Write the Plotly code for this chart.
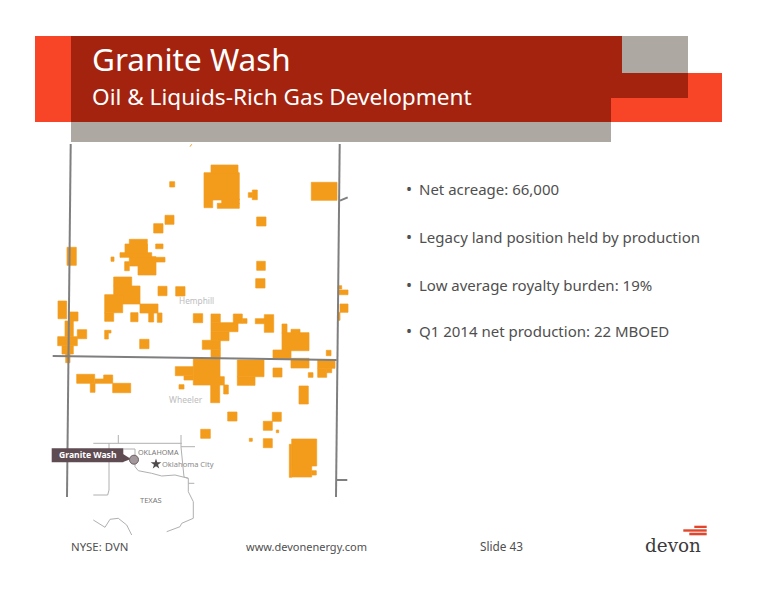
import plotly.graph_objects as go

# slide is laid out in page pixels, y runs downward
W = 776
H = 600

RED = "#a3230f"
ORANGE = "#f84527"
GREY = "#ada9a2"
ACREAGE = "#f39c1c"
LINE = "#7f7f7f"
TEXT = "#4f4f4f"

# acreage blocks: x0, y0, x1, y1
parcels = [
    (211, 165, 238, 173.3), (204, 172.7, 239.3, 200), (204, 200, 212.7, 207.7),
    (217.3, 203.3, 239.3, 208.3), (221.7, 199, 239.3, 204),
    (169.7, 181.7, 174.7, 187), (252.3, 190, 257.3, 199.7), (248.3, 192.7, 252.3, 197.3),
    (311.3, 182.3, 337, 200.3), (256.7, 217, 266, 226), (165, 215.3, 174, 224.3),
    (153.7, 223.7, 163, 233), (155.7, 244, 163, 248.7), (67, 247.3, 76.3, 265.3),
    (111, 257, 114, 261.3), (129.3, 239.3, 147.3, 253.3), (125, 244, 147.3, 253.3),
    (120, 252.7, 151.7, 257.3), (129.3, 256.7, 156, 266), (138, 266, 156, 275),
    (124.7, 261.7, 129.3, 270.7), (151.7, 257.3, 165, 262),
    (256.7, 261.3, 265.3, 270.3), (255.7, 278.7, 265, 288), (158, 286.3, 167, 295.7),
    (175.7, 286.7, 185, 296), (113.7, 277, 131.7, 286), (113.7, 286, 140, 304),
    (104.7, 294.7, 122.7, 312.7), (104.7, 312.7, 113.7, 321.3), (140, 304, 158, 313),
    (148.7, 313, 153.7, 322), (130.7, 312.7, 138, 321.7), (157.3, 313, 162, 322.3),
    (193.3, 313.7, 202.7, 322.7), (211, 314, 220.3, 322.7), (211, 322.7, 238, 331.7),
    (211, 331.7, 229, 340.7), (233.3, 314, 242.3, 323.3), (242.3, 318.7, 247, 323.3),
    (202.3, 340.3, 220.3, 349.3), (211, 349.3, 220.3, 358.3),
    (255.3, 318.7, 265, 323.7), (264.3, 314.7, 273.7, 332.3),
    (282, 324, 287, 333.3), (282, 332.7, 309, 350.7), (291, 329.3, 300, 333.3),
    (273, 350, 291, 359.3), (326.3, 350.3, 331, 355.7),
    (58, 301, 66.7, 318.7), (69.3, 312, 78, 321), (65, 321, 73.3, 336.7),
    (77.3, 329.7, 86.7, 338.7), (57.7, 336.7, 77.3, 345.7), (62, 345.7, 73.3, 354),
    (65.7, 354, 70, 362.7), (104.7, 330.3, 108.3, 339), (108.3, 330.3, 111, 333),
    (139.7, 339.3, 149, 348.7),
    (338.3, 290, 348, 294.7), (338.3, 285.7, 341.7, 289), (340, 304, 348, 312.3),
    (337.7, 312.3, 340, 320.3),
    (193.3, 358.3, 220, 385), (175.3, 366.7, 193.3, 375.7), (184, 375.7, 193.3, 380),
    (179, 384.7, 184, 389), (210.7, 385, 219.7, 402.7), (220, 376.7, 224.3, 385),
    (223.7, 385, 228.3, 394), (237.3, 360, 264, 376.7), (237.3, 376.7, 255, 385.3),
    (273, 368, 282, 377), (291, 358.3, 309, 368), (317.7, 360, 335, 368.3),
    (317.7, 368.3, 326.7, 377.3), (326.7, 368.3, 331.7, 372.7), (308.3, 372.7, 313, 377.3),
    (299, 386, 308.3, 404), (76.7, 374.3, 94.7, 383.3), (90.3, 383.3, 95, 392.3),
    (95, 379, 112.7, 383.3), (103.7, 375, 112.7, 379), (112.7, 383.3, 130.7, 392.7),
    (227.7, 412, 237, 421), (272.3, 412.3, 281.3, 421.3), (263.3, 421.3, 272.3, 430.3),
    (200.7, 429.3, 210.3, 438.3), (263.3, 438.7, 272.3, 447.7),
    (249.3, 438.3, 252.3, 441.3), (276.3, 430, 278.7, 432.7),
    (291.7, 439, 316.7, 466), (289.3, 444.3, 291.7, 477.3), (291.7, 466, 311.7, 477),
    (311.7, 470.7, 316.3, 475),
]

# county lines
county_lines = [
    [(70.7, 144), (68.3, 356.7), (67, 497)],
    [(339.7, 144), (336, 497)],
    [(52.7, 356), (336.7, 360)],
    [(340, 200.7), (347.7, 197.3)],
    [(336.7, 480), (347.3, 480)],
]

# state outlines on the little inset map
inset_lines = [
    [(93.3, 443.3), (181.7, 443.3)],
    [(118.3, 435), (118.3, 443.3)],
    [(181, 435), (181, 447), (184, 477), (188.3, 478.3), (188.3, 491.7), (193.3, 501.7),
     (193.3, 518.3), (181.7, 523.3), (180, 526.7), (166.7, 531.7)],
    [(181, 446.7), (195, 446.7)],
    [(188.3, 483.3), (194.3, 483.3)],
    [(109, 443.3), (109, 490), (107.7, 495), (93.3, 495)],
    [(123.3, 449), (135, 449), (135, 466.7), (138.3, 470.7), (151.7, 473.3), (161.7, 476),
     (175, 475), (188.3, 478.3)],
    [(93.3, 520), (105, 527.3), (110, 519.3), (118.3, 518.3), (126.7, 525), (131.7, 535)],
]

header_rects = [
    (35, 36, 71, 122, ORANGE),
    (611, 73, 722, 122, ORANGE),
    (71, 122, 611, 142, GREY),
    (622, 36, 688, 73, GREY),
    (71, 36, 622, 98, RED),
    (71, 98, 611, 122, RED),
    (622, 73, 688, 98, RED),
]

logo_bars = [
    (694.3, 525.7, 706.7, 528),
    (683.3, 529.3, 706.7, 531.7),
    (689.3, 532.7, 706.7, 535.3),
]

bullets = [
    "Net acreage: 66,000",
    "Legacy land position held by production",
    "Low average royalty burden: 19%",
    "Q1 2014 net production: 22 MBOED",
]
bullet_y = [189, 237, 285, 331]

FONT = "Noto Sans"


def add_label(fig, x, y, text, size, color=TEXT, family=FONT, anchor="left"):
    fig.add_annotation(x=x, y=y, text=text, showarrow=False, xanchor=anchor, yanchor="middle",
                       font=dict(family=family, size=size, color=color), xref="x", yref="y",
                       borderpad=0, borderwidth=0)


fig = go.Figure()

for x0, y0, x1, y1, color in header_rects:
    fig.add_shape(type="rect", x0=x0, y0=y0, x1=x1, y1=y1, fillcolor=color, line_width=0, layer="below")

# one trace per block, a single toself path punches holes where blocks overlap
# thin outline in the same colour seals the seams between touching blocks
for x0, y0, x1, y1 in parcels:
    fig.add_trace(go.Scatter(x=[x0, x1, x1, x0, x0], y=[y0, y0, y1, y1, y0], mode="lines",
                             fill="toself", fillcolor=ACREAGE, line=dict(color=ACREAGE, width=0.7)))

for seg in county_lines:
    fig.add_trace(go.Scatter(x=[p[0] for p in seg], y=[p[1] for p in seg], mode="lines",
                             line=dict(color=LINE, width=2)))
for seg in inset_lines:
    fig.add_trace(go.Scatter(x=[p[0] for p in seg], y=[p[1] for p in seg], mode="lines",
                             line=dict(color="#b0b0b0", width=1)))

# stray orange tick under the header
fig.add_trace(go.Scatter(x=[190, 191.7], y=[146.7, 144.3], mode="lines", line=dict(color=ACREAGE, width=1)))

# Granite Wash tag with pointer and dot
fig.add_shape(type="rect", x0=51.7, y0=448.3, x1=123.3, y1=462.3, fillcolor="#5f4b52", line_width=0)
fig.add_trace(go.Scatter(x=[123, 131, 123, 123], y=[454, 459, 462, 454], mode="lines", fill="toself",
                         fillcolor="#5f4b52", line=dict(width=0)))
fig.add_trace(go.Scatter(x=[134], y=[459.7], mode="markers",
                         marker=dict(size=9, color="#a3989b", line=dict(color="#6d5f63", width=1))))
fig.add_trace(go.Scatter(x=[156], y=[464], mode="markers",
                         marker=dict(symbol="star", size=8, color="#4f4a4c")))

add_label(fig, 92, 58, "Granite Wash", 31.5, "white")
add_label(fig, 92, 96, "Oil &amp; Liquids-Rich Gas Development", 22.6, "white")

for text, y in zip(bullets, bullet_y):
    add_label(fig, 406, y, "•", 16, TEXT)
    add_label(fig, 419, y, text, 15, TEXT)

add_label(fig, 179, 300, "Hemphill", 8.3, "#bdbdbd")
add_label(fig, 169, 399, "Wheeler", 8.5, "#bdbdbd")
add_label(fig, 138, 452, "OKLAHOMA", 7.2, "#777777")
add_label(fig, 162, 464, "Oklahoma City", 7.5, "#8a8a8a")
add_label(fig, 140, 500, "TEXAS", 7.5, "#777777")
add_label(fig, 59, 455, "<b>Granite Wash</b>", 8.6, "white")

add_label(fig, 71, 546, "NYSE: DVN", 11.4, TEXT)
add_label(fig, 246, 546, "www.devonenergy.com", 11, TEXT)
add_label(fig, 480, 546, "Slide 43", 11.8, TEXT)

for x0, y0, x1, y1 in logo_bars:
    fig.add_shape(type="rect", x0=x0, y0=y0, x1=x1, y1=y1, fillcolor="#e2452c", line_width=0)
add_label(fig, 645, 545, "devon", 18.4, "#3d3a3c", family="DejaVu Serif")

fig.update_xaxes(range=[0, W], visible=False, fixedrange=True)
fig.update_yaxes(range=[H, 0], visible=False, fixedrange=True)
fig.update_layout(width=W, height=H, margin=dict(l=0, r=0, t=0, b=0), showlegend=False,
                  paper_bgcolor="white", plot_bgcolor="white", hovermode=False)

# page has a default 8px body margin, drop it so the slide sits at 0,0
fig.write_html("out.html", config=dict(displayModeBar=False), post_script="document.body.style.margin='0';")
